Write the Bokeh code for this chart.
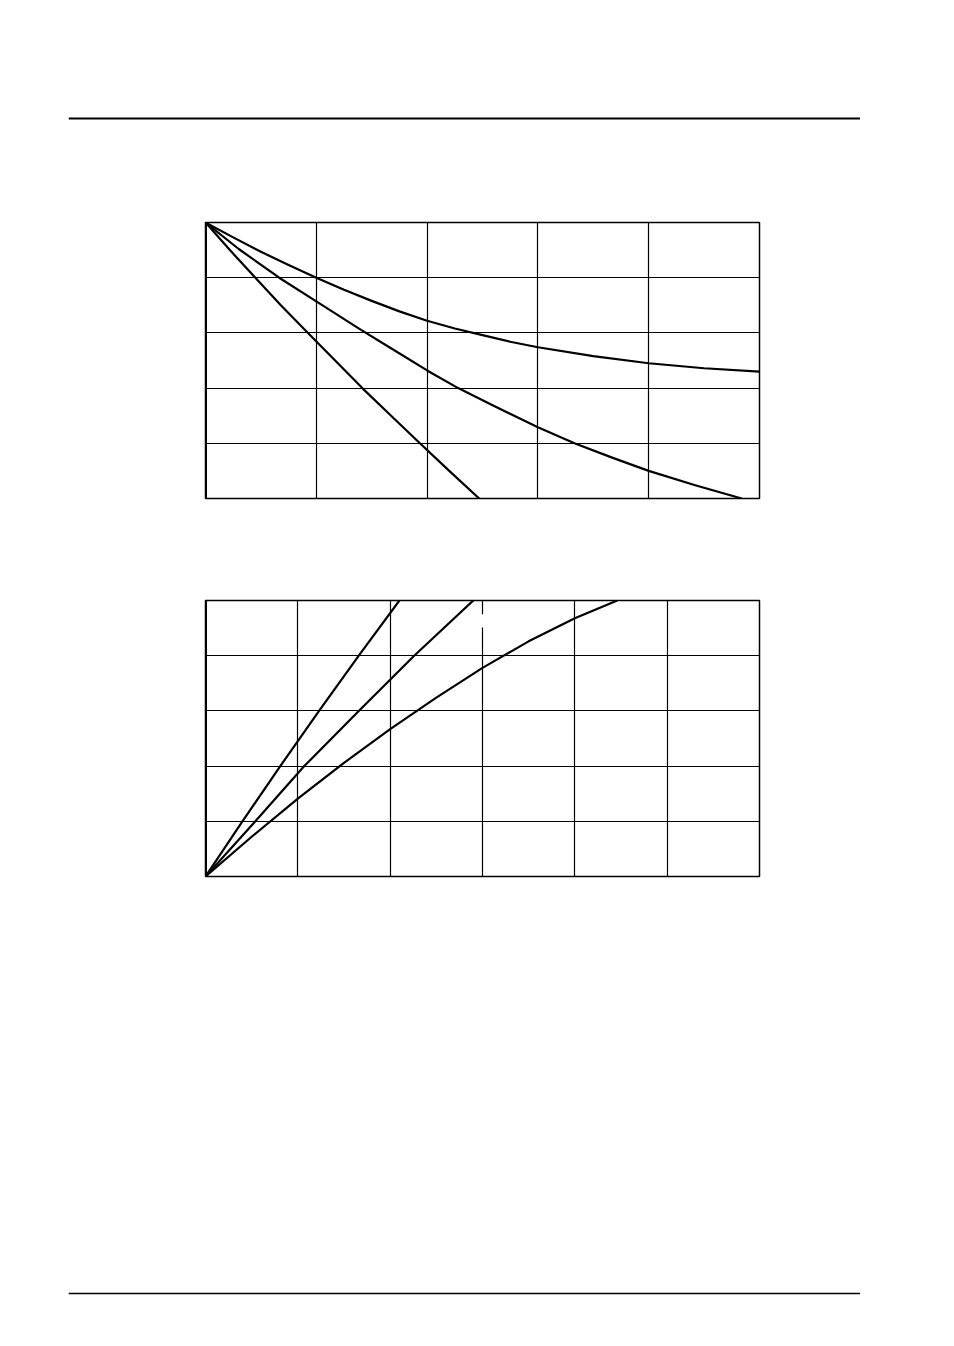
from bokeh.plotting import figure
from bokeh.layouts import column, row
from bokeh.models import Spacer, Grid, FixedTicker, Range1d, Span
from bokeh.embed import file_html
from bokeh.resources import INLINE

# ---------------- data ----------------
# Chart 1 (decreasing curves), x range 0..5, y range 0..5
c1_x_ticks = [1, 2, 3, 4]
c1_y_ticks = [1, 2, 3, 4]
c1_a_x = [0, 0.25, 0.5, 0.75, 1, 1.25, 1.5, 1.75, 2, 2.25, 2.5, 2.75, 3, 3.5, 4, 4.5, 5]
c1_a_y = [5, 4.73, 4.47, 4.23, 4.0, 3.78, 3.58, 3.39, 3.22, 3.08, 2.96, 2.84, 2.74, 2.58, 2.45, 2.36, 2.30]
c1_b_x = [0, 0.3, 0.665, 1, 1.4, 1.7, 2, 2.28, 2.6, 3, 3.33, 3.67, 4, 4.42, 4.84]
c1_b_y = [5, 4.52, 4.0, 3.57, 3.06, 2.69, 2.32, 2.0, 1.68, 1.29, 1.0, 0.74, 0.5, 0.24, 0]
c1_c_x = [0, 0.22, 0.45, 0.68, 0.925, 1.17, 1.415, 1.675, 1.935, 2.2, 2.47]
c1_c_y = [5, 4.5, 4.0, 3.5, 3.0, 2.5, 2.0, 1.5, 1.0, 0.5, 0]

# Chart 2 (increasing curves), x range 0..6, y range 0..5
c2_x_ticks = [1, 2, 3, 4, 5]
c2_y_ticks = [1, 2, 3, 4]
c2_a_x = [0, 0.40, 0.81, 1.23, 1.66, 2.10]
c2_a_y = [0, 1.0, 2.0, 3.0, 4.0, 5.0]
c2_b_x = [0, 0.54, 1.07, 1.66, 2.26, 2.9]
c2_b_y = [0, 1.0, 2.0, 3.0, 4.0, 5.0]
c2_c_x = [0, 0.5, 1.0, 1.5, 2.0, 2.5, 3.0, 3.5, 4.0, 4.46]
c2_c_y = [0, 0.72, 1.41, 2.06, 2.67, 3.24, 3.78, 4.26, 4.68, 5.0]
# break in the x=3 grid line of chart 2
c2_gap_x = [3]
c2_gap_y0 = [4.51]
c2_gap_y1 = [4.75]

BORDER = 6


def make_chart(xmax, ymax, xticks, yticks, curves, w, h):
    p = figure(width=w + 2 * BORDER, height=h + 2 * BORDER,
               x_range=Range1d(0, xmax), y_range=Range1d(0, ymax),
               x_axis_type=None, y_axis_type=None,
               toolbar_location=None, output_backend="svg",
               min_border_left=BORDER, min_border_right=BORDER,
               min_border_top=BORDER, min_border_bottom=BORDER)
    p.outline_line_color = "black"
    p.outline_line_width = 1.5
    p.background_fill_color = "white"
    p.border_fill_color = "white"
    p.add_layout(Grid(dimension=0, ticker=FixedTicker(ticks=xticks),
                      grid_line_color="black", grid_line_width=1.2))
    p.add_layout(Grid(dimension=1, ticker=FixedTicker(ticks=yticks),
                      grid_line_color="black", grid_line_width=1.2))
    p.add_layout(Span(location=0, dimension="height",
                      line_color="black", line_width=3))
    for cx, cy in curves:
        p.line(cx, cy, line_color="black", line_width=2.2, line_join="round")
    return p


p1 = make_chart(5, 5, c1_x_ticks, c1_y_ticks,
                [(c1_a_x, c1_a_y), (c1_b_x, c1_b_y), (c1_c_x, c1_c_y)],
                554, 276)
p2 = make_chart(6, 5, c2_x_ticks, c2_y_ticks,
                [(c2_a_x, c2_a_y), (c2_b_x, c2_b_y), (c2_c_x, c2_c_y)],
                554, 276)
p2.segment(x0=c2_gap_x, y0=c2_gap_y0, x1=c2_gap_x, y1=c2_gap_y1,
           line_color="white", line_width=3)


def rule(w, lw):
    r = figure(width=w, height=10, x_range=Range1d(0, 1), y_range=Range1d(0, 1),
               x_axis_type=None, y_axis_type=None,
               toolbar_location=None, output_backend="svg",
               min_border_left=0, min_border_right=0,
               min_border_top=0, min_border_bottom=0)
    r.outline_line_color = None
    r.background_fill_color = "white"
    r.border_fill_color = "white"
    r.add_layout(Span(location=0.5, dimension="width",
                      line_color="black", line_width=lw))
    return r


top_rule = rule(792, 2)
bottom_rule = rule(792, 1.3)

page = column(
    Spacer(height=111, width=10),
    row(Spacer(width=68, height=10), top_rule),
    Spacer(height=95, width=10),
    row(Spacer(width=199, height=10), p1),
    Spacer(height=90, width=10),
    row(Spacer(width=199, height=10), p2),
    Spacer(height=404, width=10),
    row(Spacer(width=68, height=10), bottom_rule),
)

open("out.html", "w").write(file_html(page, INLINE))
